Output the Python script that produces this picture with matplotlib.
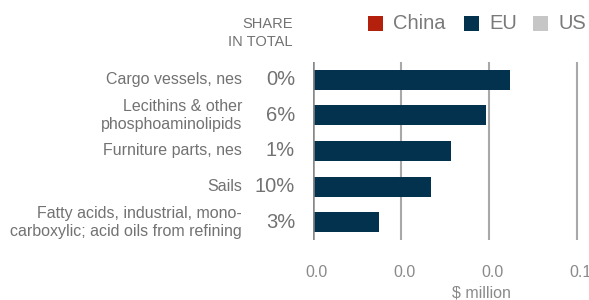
import matplotlib
matplotlib.use("Agg")
import matplotlib.pyplot as plt
import matplotlib.transforms as mtrans
from matplotlib.patches import Rectangle

categories = ["Cargo vessels, nes", "Lecithins & other\nphosphoaminolipids",
              "Furniture parts, nes", "Sails",
              "Fatty acids, industrial, mono-\ncarboxylic; acid oils from refining"]
shares = ["0%", "6%", "1%", "10%", "3%"]
eu_values = [0.0448, 0.0393, 0.0314, 0.0268, 0.0150]
tick_values = [0.0, 0.02, 0.04, 0.06]
tick_labels = ["0.0", "0.0", "0.0", "0.1"]
legend_names = ["China", "EU", "US"]
legend_colors = ["#b3200c", "#03324e", "#c6c6c6"]

plt.rcParams['font.family'] = ['Liberation Sans', 'DejaVu Sans']
W, H = 589, 300
fig = plt.figure(figsize=(W/100, H/100), dpi=100)

ax_left, ax_right = 313, 649
ax_top, ax_bot = 62, 240
ax = fig.add_axes([ax_left/W, 1-ax_bot/H, (ax_right-ax_left)/W, (ax_bot-ax_top)/H])
xmax = 0.02 * (ax_right-ax_left) / 88.0
ax.set_xlim(0, xmax)
n = len(categories)
ax.set_ylim(n-0.5, -0.5)
ypos = list(range(n))
ax.barh(ypos, eu_values, height=0.56, color=legend_colors[1], zorder=3)
for s in ax.spines.values():
    s.set_visible(False)
ax.set_xticks(tick_values)
ax.set_xticklabels(tick_labels)
ax.tick_params(axis='x', length=0, pad=18, labelsize=11.5, labelcolor='#8a8a8a')
off = mtrans.ScaledTranslation(3/100, 0, fig.dpi_scale_trans)
for lab in ax.get_xticklabels():
    lab.set_transform(lab.get_transform() + off)
ax.set_yticks([])
ax.grid(axis='x', color='#a8a8a8', linewidth=1.5, zorder=1)
ax.axvline(0, color='#888888', linewidth=1.8, zorder=4)

for i, (c, s) in enumerate(zip(categories, shares)):
    ax.text(-(313-242)/88*0.02, i, c, ha='right', va='center', fontsize=11.5,
            color='#727272', linespacing=1.25)
    ax.text(-(313-295)/88*0.02, i, s, ha='right', va='center', fontsize=14.5,
            color='#727272')

fig.text(481/W, 1-293/H, "$ million", ha='center', va='center', fontsize=11.5, color='#8a8a8a')
fig.text(293/W, 1-33/H, "SHARE\nIN TOTAL", ha='right', va='center', fontsize=10.5,
         color='#727272', linespacing=1.4)

# legend
lx = [368, 464, 533]
for x0, name, col in zip(lx, legend_names, legend_colors):
    fig.patches.append(Rectangle((x0/W, 1-31/H), 15/W, 15/H, transform=fig.transFigure,
                                 facecolor=col, edgecolor='none'))
    fig.text((x0+25)/W, 1-23.5/H, name, ha='left', va='center', fontsize=14.5, color='#7a7a7a')

fig.savefig("out.png", dpi=100)
